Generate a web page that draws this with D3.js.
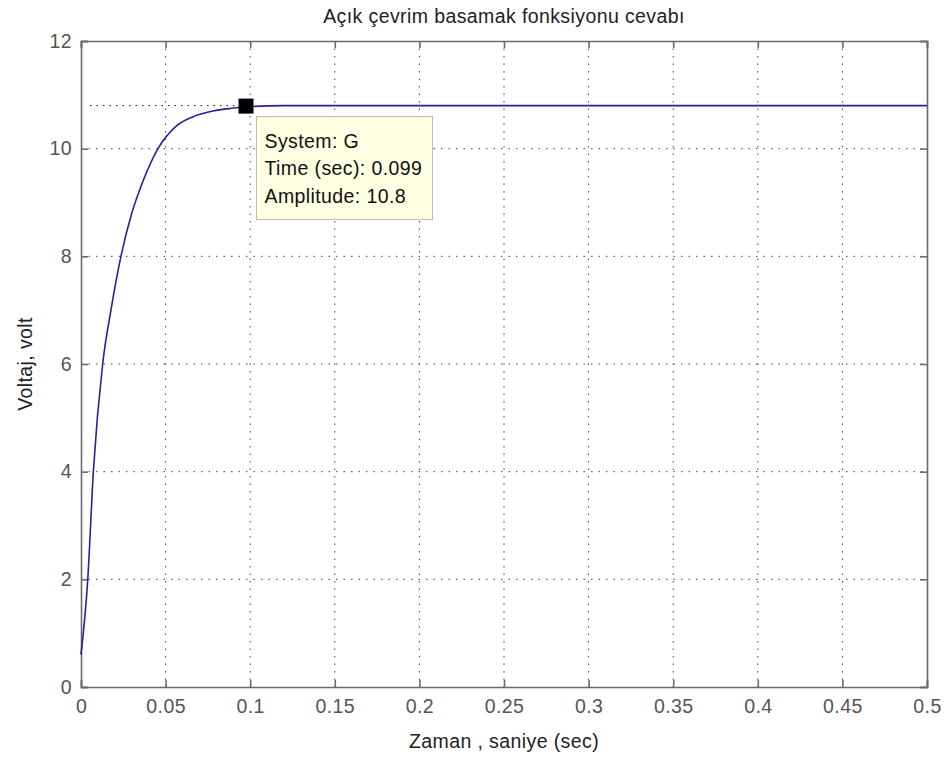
<!DOCTYPE html>
<html>
<head>
<meta charset="utf-8">
<script src="https://cdn.jsdelivr.net/npm/d3@7"></script>
<style>
body { margin: 0; background: #fff; }
svg { display: block; font-family: "Liberation Sans", Arial, sans-serif; }
</style>
</head>
<body>
<svg id="chart"></svg>
<script>
// values
const timeSec = [0, 0.004, 0.0073, 0.0128, 0.0177, 0.0236, 0.030, 0.0368, 0.0455, 0.0556, 0.066, 0.078, 0.089, 0.099, 0.12, 0.15, 0.5];
const voltage = [0.6, 2, 4, 6, 7.0, 8, 8.8, 9.41, 10, 10.4, 10.59, 10.70, 10.75, 10.78, 10.8, 10.8, 10.8];
const xTicks = [0, 0.05, 0.1, 0.15, 0.2, 0.25, 0.3, 0.35, 0.4, 0.45, 0.5];
const yTicks = [0, 2, 4, 6, 8, 10, 12];
const cursorPoint = { t: 0.099, v: 10.8 };
const cursorLines = ['System: G', 'Time (sec): 0.099', 'Amplitude: 10.8'];

function makeChart() {
	let w = 946;
	let h = 758;
	let m = { left: 81, right: 19, top: 41, bottom: 71 };
	let fs = '19.5px';
	let ls = '0.4px';

	let svg = d3.select('#chart')
		.attr('width', w)
		.attr('height', h);

	let x = d3.scaleLinear().domain([0, 0.5]).range([m.left, w - m.right]);
	let y = d3.scaleLinear().domain([0, 12]).range([h - m.bottom, m.top]);

	let pw = w - m.left - m.right;
	let ph = h - m.top - m.bottom;

	// grid
	svg.append('g').selectAll('line')
		.data(xTicks.slice(1, -1))
		.enter()
		.append('line')
		.attr('x1', d => x(d)).attr('x2', d => x(d))
		.attr('y1', m.top).attr('y2', h - m.bottom)
		.attr('stroke', '#444')
		.attr('stroke-dasharray', '1.5,6');

	svg.append('g').selectAll('line')
		.data(yTicks.slice(1, -1))
		.enter()
		.append('line')
		.attr('y1', d => y(d)).attr('y2', d => y(d))
		.attr('x1', m.left).attr('x2', w - m.right)
		.attr('stroke', '#444')
		.attr('stroke-dasharray', '1.5,6');

	// axes (inside ticks, box on all sides)
	let axisColor = '#6a6a6a';
	let bottom = svg.append('g')
		.attr('transform', `translate(0,${h - m.bottom})`)
		.call(d3.axisBottom(x).tickValues(xTicks).tickSize(-7).tickPadding(12).tickFormat(d3.format('')));
	let top = svg.append('g')
		.attr('transform', `translate(0,${m.top})`)
		.call(d3.axisTop(x).tickValues(xTicks).tickSize(-7).tickFormat(''));
	let left = svg.append('g')
		.attr('transform', `translate(${m.left},0)`)
		.call(d3.axisLeft(y).tickValues(yTicks).tickSize(-7).tickPadding(9));
	let right = svg.append('g')
		.attr('transform', `translate(${w - m.right},0)`)
		.call(d3.axisRight(y).tickValues(yTicks).tickSize(-7).tickFormat(''));

	[bottom, top, left, right].forEach(g => {
		g.select('.domain').attr('stroke', axisColor).attr('stroke-width', 1.6);
		g.selectAll('.tick line').attr('stroke', axisColor).attr('stroke-width', 1.6);
		g.selectAll('.tick text')
			.attr('fill', '#555')
			.style('font-size', fs)
			.style('letter-spacing', ls)
			.style('font-family', '"Liberation Sans", Arial, sans-serif');
	});

	// response line
	let pts = timeSec.map((t, i) => [t, voltage[i]]);
	let line = d3.line()
		.x(d => x(d[0]))
		.y(d => y(d[1]))
		.curve(d3.curveMonotoneX);

	svg.append('path')
		.datum(pts)
		.attr('d', line)
		.attr('fill', 'none')
		.attr('stroke', '#2323a0')
		.attr('stroke-width', 1.6);

	// data cursor
	svg.append('line')
		.attr('x1', m.left + 9).attr('x2', x(cursorPoint.t))
		.attr('y1', y(cursorPoint.v)).attr('y2', y(cursorPoint.v))
		.attr('stroke', '#111')
		.attr('stroke-dasharray', '1.5,5');

	svg.append('rect')
		.attr('x', x(cursorPoint.t) - 10)
		.attr('y', y(cursorPoint.v) - 7)
		.attr('width', 15)
		.attr('height', 15)
		.attr('fill', '#000');

	let bx = x(cursorPoint.t) + 8;
	let by = y(cursorPoint.v) + 11;
	svg.append('rect')
		.attr('x', bx).attr('y', by)
		.attr('width', 176).attr('height', 103)
		.attr('fill', '#ffffe1')
		.attr('stroke', '#bbb');

	svg.append('g').selectAll('text')
		.data(cursorLines)
		.enter()
		.append('text')
		.attr('x', bx + 8)
		.attr('y', (d, i) => by + 31 + i * 27.5)
		.style('font-size', fs)
		.style('letter-spacing', ls)
		.attr('fill', '#111')
		.text(d => d);

	// titles
	svg.append('text')
		.attr('x', m.left + pw / 2)
		.attr('y', 23)
		.attr('text-anchor', 'middle')
		.style('font-size', fs)
		.style('letter-spacing', ls)
		.attr('fill', '#222')
		.text('Açık çevrim basamak fonksiyonu cevabı');

	svg.append('text')
		.attr('x', m.left + pw / 2)
		.attr('y', 748)
		.attr('text-anchor', 'middle')
		.style('font-size', fs)
		.style('letter-spacing', ls)
		.attr('fill', '#222')
		.text('Zaman , saniye (sec)');

	svg.append('text')
		.attr('transform', `translate(32,${m.top + ph / 2}) rotate(-90)`)
		.attr('text-anchor', 'middle')
		.style('font-size', fs)
		.style('letter-spacing', ls)
		.attr('fill', '#222')
		.text('Voltaj, volt');
}

makeChart();
</script>
</body>
</html>
